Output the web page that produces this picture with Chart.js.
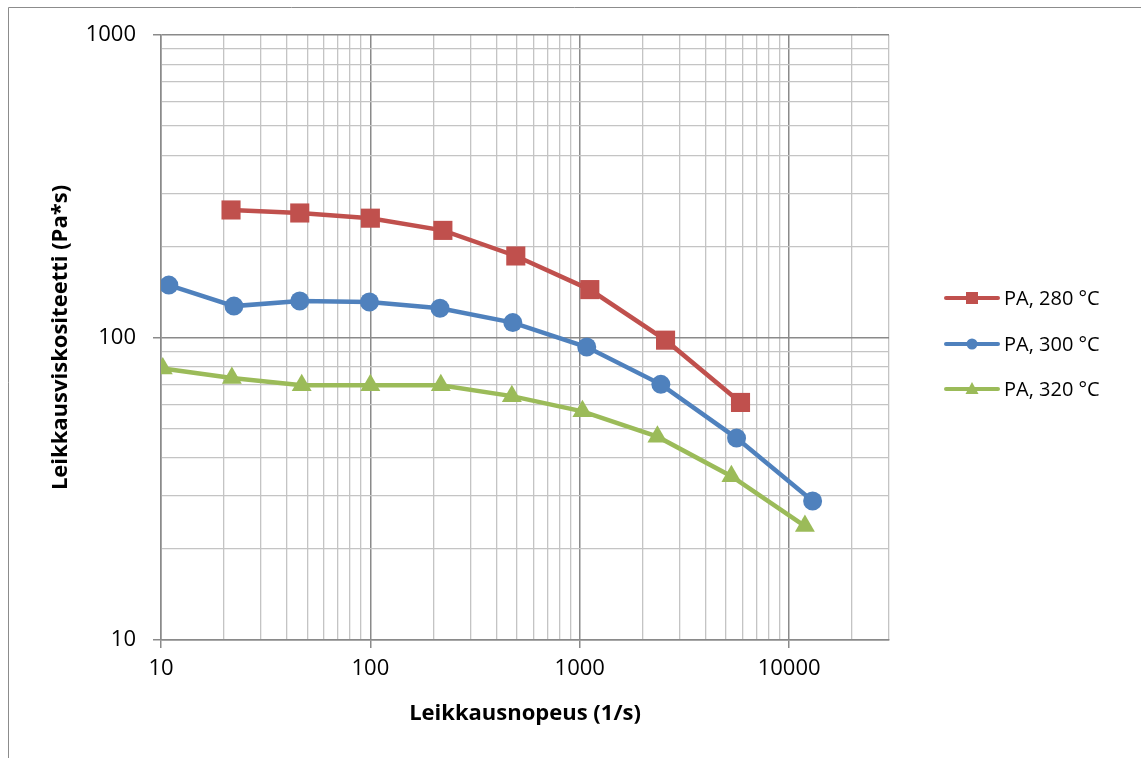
<!DOCTYPE html>
<html>
<head>
<meta charset="utf-8">
<script src="https://cdn.jsdelivr.net/npm/chart.js@4.4.1/dist/chart.umd.min.js"></script>
<style>
  html, body { margin: 0; padding: 0; background: #fff; }
  #wrap { width: 1141px; height: 758px; }
</style>
</head>
<body>
<div id="wrap"><canvas id="chart" width="1141" height="758"></canvas></div>
<script>
// Leikkausviskositeetti vs. leikkausnopeus, PA eri lämpötiloissa
const seriesNames = ['PA, 280 °C', 'PA, 300 °C', 'PA, 320 °C'];

const rate280 = [21.6, 46, 100, 222, 495, 1117, 2570, 5860];
const visc280 = [264, 258, 248, 226, 186, 144, 98, 61];

const rate300 = [10.9, 22.3, 46, 99, 215, 479, 1080, 2440, 5610, 12950];
const visc300 = [149, 127, 132, 131, 125, 112, 93, 70, 46.5, 28.8];

const rate320 = [10.2, 21.8, 47, 100, 217, 474, 1030, 2350, 5300, 11900];
const visc320 = [79, 73.5, 69.5, 69.5, 69.5, 64, 57, 47, 34.8, 23.8];

const xTicks = [10, 20, 30, 40, 50, 60, 70, 80, 90,
                100, 200, 300, 400, 500, 600, 700, 800, 900,
                1000, 2000, 3000, 4000, 5000, 6000, 7000, 8000, 9000,
                10000, 20000, 30000];
const yTicks = [10, 20, 30, 40, 50, 60, 70, 80, 90,
                100, 200, 300, 400, 500, 600, 700, 800, 900, 1000];

const FONT = "'Open Sans', 'Noto Sans', sans-serif";
const MAJOR = '#8a8a8a';
const MINOR = '#c4c4c4';

function toPoints(xs, ys) {
    return xs.map((x, i) => ({ x: x, y: ys[i] }));
}

function isDecade(v) {
    const l = Math.log10(v);
    return Math.abs(l - Math.round(l)) < 1e-9;
}

const colors = ['#C0504D', '#4F81BD', '#9BBB59'];
const styles = ['rect', 'circle', 'triangle'];
const radii = [13.5, 9.5, 11.5];

// rajat ja taustakehys
const framePlugin = {
    id: 'frame',
    beforeDraw(chart) {
        const ctx = chart.ctx;
        ctx.save();
        ctx.fillStyle = '#fff';
        ctx.fillRect(0, 0, chart.width, chart.height);
        ctx.strokeStyle = '#8c8c8c';
        ctx.lineWidth = 1;
        ctx.beginPath();
        ctx.moveTo(8.5, chart.height);
        ctx.lineTo(8.5, 7.5);
        ctx.lineTo(chart.width, 7.5);
        ctx.stroke();
        ctx.restore();
    }
};

// selite oikealla: viiva + merkki
const legendPlugin = {
    id: 'sideLegend',
    afterDraw(chart) {
        const ctx = chart.ctx;
        const rows = [298, 344, 389];
        ctx.save();
        chart.data.datasets.forEach((ds, i) => {
            const y = rows[i];
            ctx.strokeStyle = ds.borderColor;
            ctx.lineWidth = 4;
            ctx.lineCap = 'round';
            ctx.beginPath();
            ctx.moveTo(946, y);
            ctx.lineTo(998, y);
            ctx.stroke();
            ctx.fillStyle = ds.borderColor;
            ctx.beginPath();
            if (i === 0) {
                ctx.rect(966, y - 6, 12, 12);
            } else if (i === 1) {
                ctx.arc(972, y, 5.5, 0, Math.PI * 2);
            } else {
                ctx.moveTo(972, y - 7);
                ctx.lineTo(978.5, y + 5);
                ctx.lineTo(965.5, y + 5);
                ctx.closePath();
            }
            ctx.fill();
            ctx.fillStyle = '#000';
            ctx.font = '20px ' + FONT;
            ctx.textBaseline = 'middle';
            ctx.textAlign = 'left';
            ctx.fillText(ds.label, 1004, y + 1);
        });
        ctx.restore();
    }
};

const datasets = [
    toPoints(rate280, visc280),
    toPoints(rate300, visc300),
    toPoints(rate320, visc320)
].map((pts, i) => ({
    label: seriesNames[i],
    data: pts,
    borderColor: colors[i],
    backgroundColor: colors[i],
    borderWidth: 4.5,
    pointStyle: styles[i],
    pointRadius: radii[i],
    pointHoverRadius: radii[i],
    pointBorderWidth: 0,
    pointBackgroundColor: colors[i],
    tension: 0
}));

new Chart(document.getElementById('chart'), {
    type: 'line',
    data: { datasets: datasets },
    plugins: [framePlugin, legendPlugin],
    options: {
        responsive: false,
        animation: false,
        layout: { padding: { left: 0, top: 35, right: 252, bottom: 0 } },
        plugins: {
            legend: { display: false },
            tooltip: { enabled: false }
        },
        scales: {
            x: {
                type: 'logarithmic',
                min: 10,
                max: 30000,
                afterBuildTicks(scale) {
                    scale.ticks = xTicks.map(v => ({ value: v }));
                },
                afterFit(scale) { scale.height = 118; },
                border: { display: true, color: MAJOR, width: 1.5 },
                grid: {
                    color: ctx => isDecade(ctx.tick.value) ? MAJOR : MINOR,
                    lineWidth: ctx => isDecade(ctx.tick.value) ? 1.5 : 1.3,
                    tickColor: ctx => isDecade(ctx.tick.value) ? MAJOR : 'rgba(0,0,0,0)',
                    tickLength: 8,
                    drawTicks: true
                },
                ticks: {
                    autoSkip: false,
                    maxRotation: 0,
                    padding: 8,
                    color: '#000',
                    font: { family: FONT, size: 22 },
                    callback: v => isDecade(v) ? String(v) : ''
                },
                title: {
                    display: true,
                    text: 'Leikkausnopeus (1/s)',
                    color: '#000',
                    font: { family: FONT, size: 22, weight: 'bold' },
                    padding: { top: 0, bottom: 31 }
                }
            },
            y: {
                type: 'logarithmic',
                min: 10,
                max: 1000,
                afterBuildTicks(scale) {
                    scale.ticks = yTicks.map(v => ({ value: v }));
                },
                afterFit(scale) { scale.width = 161; },
                border: { display: true, color: MAJOR, width: 1.5 },
                grid: {
                    color: ctx => isDecade(ctx.tick.value) ? MAJOR : MINOR,
                    lineWidth: ctx => isDecade(ctx.tick.value) ? 1.5 : 1.3,
                    tickColor: ctx => isDecade(ctx.tick.value) ? MAJOR : 'rgba(0,0,0,0)',
                    tickLength: 8
                },
                ticks: {
                    autoSkip: false,
                    padding: 17,
                    color: '#000',
                    font: { family: FONT, size: 22 },
                    callback: v => isDecade(v) ? String(v) : ''
                },
                title: {
                    display: true,
                    text: 'Leikkausviskositeetti (Pa*s)',
                    color: '#000',
                    font: { family: FONT, size: 22, weight: 'bold' },
                    padding: { top: 48, bottom: 0 }
                }
            }
        }
    }
});
</script>
</body>
</html>
